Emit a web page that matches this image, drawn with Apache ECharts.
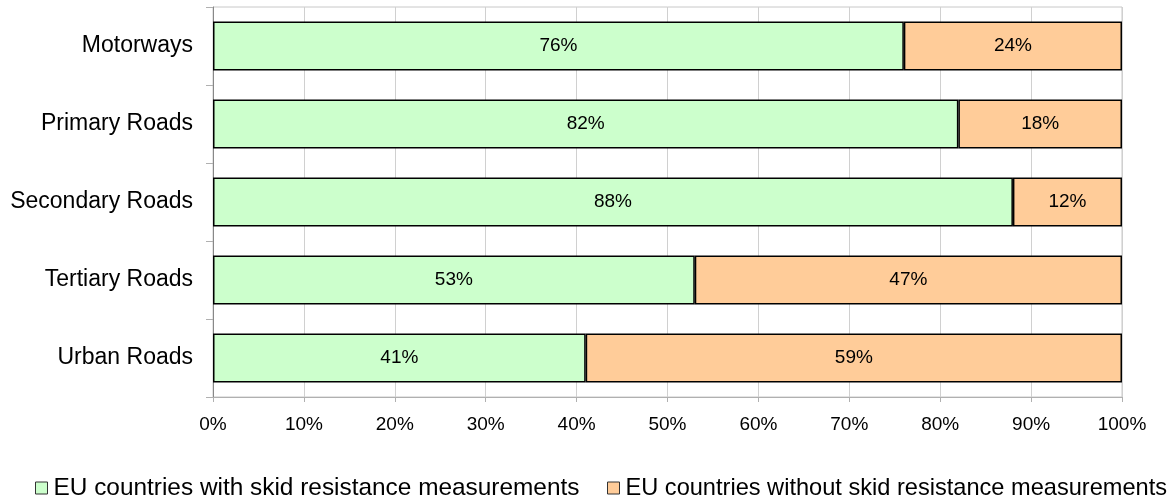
<!DOCTYPE html>
<html>
<head>
<meta charset="utf-8">
<script src="https://cdn.jsdelivr.net/npm/echarts@6/dist/echarts.min.js"></script>
<style>
  html, body { margin: 0; padding: 0; background: #fff; }
  #chart { width: 1176px; height: 497px; }
</style>
</head>
<body>
<div id="chart"></div>
<script>
// Road categories, listed top to bottom
const categories = ['Motorways', 'Primary Roads', 'Secondary Roads', 'Tertiary Roads', 'Urban Roads'];
// Share of EU countries (%)
const withMeasurements = [76, 82, 88, 53, 41];
const withoutMeasurements = [24, 18, 12, 47, 59];
const seriesNames = ['EU countries with skid resistance measurements', 'EU countries without skid resistance measurements'];
const xTicks = { min: 0, max: 100, interval: 10 };

const FONT = '"Liberation Sans", Arial, sans-serif';
const chart = echarts.init(document.getElementById('chart'));

function barSeries(name, data, color) {
  return {
    name: name,
    type: 'bar',
    stack: 'total',
    data: data,
    barWidth: 49,
    itemStyle: { color: color, borderColor: '#000', borderWidth: 1.5 },
    label: {
      show: true,
      position: 'inside',
      formatter: '{c}%',
      color: '#000',
      fontFamily: FONT,
      fontSize: 19
    },
    emphasis: { disabled: true }
  };
}

function legendAt(left, name, size) {
  return {
    left: left,
    top: 476,
    data: [name],
    icon: 'rect',
    itemWidth: 12,
    itemHeight: 12,
    itemGap: 0,
    padding: 0,
    selectedMode: false,
    itemStyle: { borderColor: '#333', borderWidth: 1 },
    textStyle: { fontFamily: FONT, fontSize: size, color: '#000', padding: [0, 0, 0, 1] }
  };
}

chart.setOption({
  animation: false,
  backgroundColor: '#fff',
  grid: {
    left: 213, right: 54, top: 7, bottom: 100,
    show: true, borderColor: '#c8c8c8', borderWidth: 1
  },
  legend: [legendAt(35, seriesNames[0], 24.4), legendAt(607, seriesNames[1], 23.6)],
  xAxis: {
    type: 'value',
    min: xTicks.min, max: xTicks.max, interval: xTicks.interval,
    axisLine: { show: true, lineStyle: { color: '#b0b0b0', width: 1 } },
    axisTick: { show: true, length: 5, lineStyle: { color: '#b0b0b0' } },
    splitLine: { show: true, lineStyle: { color: '#d0d0d0', width: 1 } },
    axisLabel: {
      formatter: '{value}%', color: '#000', fontFamily: FONT, fontSize: 19, margin: 18
    }
  },
  yAxis: {
    type: 'category',
    data: categories,
    inverse: true,
    axisLine: { show: true, lineStyle: { color: '#888', width: 1 } },
    axisTick: { show: true, length: 7, lineStyle: { color: '#b0b0b0' } },
    axisLabel: { color: '#000', fontFamily: FONT, fontSize: 23, margin: 20 }
  },
  series: [
    barSeries(seriesNames[0], withMeasurements, '#ccffcc'),
    barSeries(seriesNames[1], withoutMeasurements, '#ffcc99')
  ]
});
</script>
</body>
</html>
